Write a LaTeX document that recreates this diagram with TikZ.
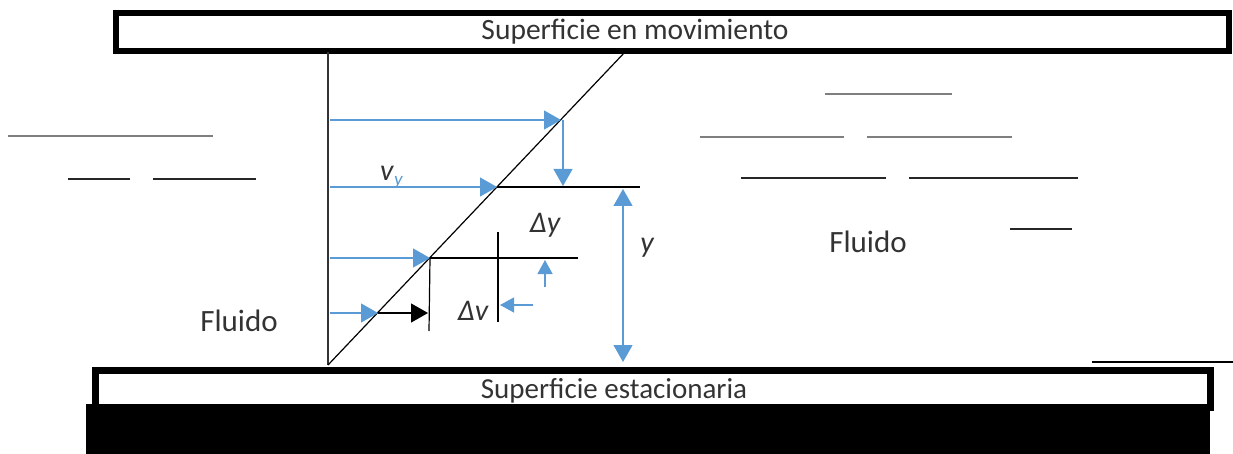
\documentclass[tikz,border=0pt]{standalone}
\usepackage{fontspec}
\setmainfont{Carlito}
\usetikzlibrary{arrows.meta}
\definecolor{ablue}{HTML}{5B9BD5}
\definecolor{txt}{HTML}{333333}
\definecolor{lgray}{HTML}{7F7F7F}
\tikzset{
  plate/.style={draw=black,line width=5.5pt,fill=white},
  barrow/.style={draw=ablue,line width=1.3pt,-{Triangle[length=17pt,width=19pt]}},
  sarrow/.style={draw=ablue,line width=1.3pt,-{Triangle[length=14pt,width=15pt]}},
  karrow/.style={draw=black,line width=1.3pt,-{Triangle[length=17pt,width=19pt]}},
  darrow/.style={draw=ablue,line width=1.3pt,{Triangle[length=17pt,width=19pt]}-{Triangle[length=17pt,width=19pt]}},
  kline/.style={draw=black,line width=1.2pt},
  gline/.style={draw=lgray,line width=2pt},
  dline/.style={draw=black!85,line width=2pt},
  lbl/.style={font=\fontsize{28}{30}\selectfont,text=txt,inner sep=0pt,anchor=base},
  mlbl/.style={font=\fontsize{30}{32}\selectfont\itshape,text=txt,inner sep=0pt,anchor=base},
}
\begin{document}
\begin{tikzpicture}[x=1pt,y=-1pt]
\useasboundingbox (0,0) rectangle (1233,454);
% plates
\fill[black] (86,404) rectangle (1210,454);
\node[plate,minimum width=1113pt,minimum height=38pt,anchor=north west] (top) at (113,10.5) {};
\node[plate,minimum width=1115pt,minimum height=37pt,line width=7pt,anchor=north west] (bot) at (92,367) {};
\node[lbl,font=\fontsize{29.5}{30}\selectfont] (ttop) at (635,40) {Superficie en movimiento};
\node[lbl,font=\fontsize{29}{30}\selectfont] (tbot) at (614,398) {Superficie estacionaria};
\coordinate (r1) at (1092,362); \coordinate (r2) at (1233,362);
\draw[line width=1.5pt] (r1) -- (r2);
% axis and profile
\coordinate (o) at (328,365);
\coordinate (ax) at (328,52);
\coordinate (pe) at (625,52);
\draw[line width=1.3pt,draw=black!80] (o) -- (ax);
\draw[line width=1.2pt] (o) -- (pe);
% velocity arrows
\coordinate (a1) at (330,120); \coordinate (b1) at (561,120);
\coordinate (a2) at (330,187); \coordinate (b2) at (497,187);
\coordinate (a3) at (330,258); \coordinate (b3) at (430,258);
\coordinate (a4) at (330,313); \coordinate (b4) at (378,313);
\draw[barrow] (a1) -- (b1);
\draw[barrow] (a2) -- (b2);
\draw[barrow] (a3) -- (b3);
\draw[barrow] (a4) -- (b4);
% down arrow at top
\coordinate (d1) at (563,120); \coordinate (d2) at (563,186);
\draw[barrow] (d1) -- (d2);
% reference lines
\coordinate (h1) at (640,187);
\draw[kline] (b2) -- (h1);
\coordinate (h3) at (578,258);
\draw[kline] (b3) -- (h3);
\coordinate (v1b) at (429,331);
\draw[kline] (b3) -- (v1b);
\coordinate (v2a) at (498,232); \coordinate (v2b) at (498,322);
\draw[kline] (v2a) -- (v2b);
\coordinate (k2) at (428,313);
\draw[karrow] (b4) -- (k2);
% small blue arrows
\coordinate (s1) at (533,305); \coordinate (s2) at (500,305);
\draw[sarrow] (s1) -- (s2);
\coordinate (u1) at (545,287); \coordinate (u2) at (545,260);
\draw[sarrow] (u1) -- (u2);
% y dimension
\coordinate (y1) at (623,189); \coordinate (y2) at (623,362);
\draw[darrow] (y1) -- (y2);
% labels
\node[mlbl] (ly) at (647,252) {y};
\node[mlbl] (ldy) at (545,233) {Δy};
\node[mlbl] (ldv) at (473,320) {Δv};
\node[mlbl,anchor=base west] (lv) at (380,181) {v};
\node[font=\fontsize{19}{19}\selectfont\itshape,text=ablue,inner sep=0pt,anchor=base west] (lvy) at (394,186) {y};
\node[lbl,font=\fontsize{31}{32}\selectfont] (f1) at (868,252) {Fluido};
\node[lbl,font=\fontsize{31}{32}\selectfont] (f2) at (239,331) {Fluido};
% fluid lines left
\coordinate (l1a) at (8,136); \coordinate (l1b) at (213,136);
\draw[gline] (l1a) -- (l1b);
\coordinate (l2a) at (68,179); \coordinate (l2b) at (130,179);
\draw[dline] (l2a) -- (l2b);
\coordinate (l3a) at (153,179); \coordinate (l3b) at (256,179);
\draw[dline] (l3a) -- (l3b);
% fluid lines right
\coordinate (r3a) at (825,94); \coordinate (r3b) at (952,94);
\draw[gline] (r3a) -- (r3b);
\coordinate (r4a) at (700,137); \coordinate (r4b) at (844,137);
\draw[gline] (r4a) -- (r4b);
\coordinate (r5a) at (867,137); \coordinate (r5b) at (1012,137);
\draw[gline] (r5a) -- (r5b);
\coordinate (r6a) at (741,178); \coordinate (r6b) at (886,178);
\draw[dline] (r6a) -- (r6b);
\coordinate (r7a) at (909,178); \coordinate (r7b) at (1078,178);
\draw[dline] (r7a) -- (r7b);
\coordinate (r8a) at (1010,229); \coordinate (r8b) at (1072,229);
\draw[dline] (r8a) -- (r8b);
\end{tikzpicture}
\end{document}
